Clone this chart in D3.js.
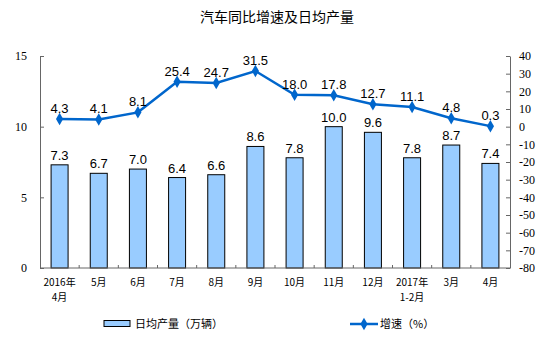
<!DOCTYPE html>
<html>
<head>
<meta charset="utf-8">
<script src="https://cdn.jsdelivr.net/npm/d3@7/dist/d3.min.js"></script>
<style>
  body { margin: 0; background: #fff; }
  svg { display: block; }
</style>
</head>
<body>
<svg id="chart" width="554" height="345"></svg>
<script>
// Monthly categories (second line of label after "\n")
const categories = ["2016年\n4月", "5月", "6月", "7月", "8月", "9月", "10月", "11月", "12月", "2017年\n1-2月", "3月", "4月"];
// Daily average output (10k vehicles)
const dailyOutput = [7.3, 6.7, 7.0, 6.4, 6.6, 8.6, 7.8, 10.0, 9.6, 7.8, 8.7, 7.4];
// Year-on-year growth (%)
const growth = [4.3, 4.1, 8.1, 25.4, 24.7, 31.5, 18.0, 17.8, 12.7, 11.1, 4.8, 0.3];
// Axis ticks
const leftTicks = [0, 5, 10, 15];
const rightTicks = [40, 30, 20, 10, 0, -10, -20, -30, -40, -50, -60, -70, -80];

const svg = d3.select("#chart");
const plot = { left: 40, right: 510, top: 56, bottom: 268 };

const x = d3.scaleBand().domain(categories).range([plot.left, plot.right]).padding(0);
const yL = d3.scaleLinear().domain([0, 15]).range([plot.bottom, plot.top]);
const yR = d3.scaleLinear().domain([-80, 40]).range([plot.bottom, plot.top]);

const barColor = "#99CCFF";
const lineColor = "#0066CC";
const axisColor = "#666";
const serif = "'Liberation Serif', 'Times New Roman', serif";
const sans = "'Liberation Sans', Arial, sans-serif";
const cjk = "'Noto Sans CJK SC', sans-serif";

// Title
svg.append("text")
  .attr("x", 277).attr("y", 22)
  .attr("text-anchor", "middle")
  .attr("font-family", cjk)
  .attr("font-size", 14)
  .attr("fill", "#000")
  .text("汽车同比增速及日均产量");

// Bars
const barW = 17;
svg.append("g").selectAll("rect")
  .data(dailyOutput)
  .join("rect")
  .attr("x", (d, i) => x(categories[i]) + x.bandwidth() / 2 - barW / 2)
  .attr("y", d => yL(d))
  .attr("width", barW)
  .attr("height", d => yL(0) - yL(d))
  .attr("fill", barColor)
  .attr("stroke", "#000")
  .attr("stroke-width", 1);

// Bar value labels
svg.append("g").selectAll("text")
  .data(dailyOutput)
  .join("text")
  .attr("x", (d, i) => x(categories[i]) + x.bandwidth() / 2)
  .attr("y", d => yL(d) - 5)
  .attr("text-anchor", "middle")
  .attr("font-family", sans)
  .attr("font-size", 13)
  .attr("fill", "#000")
  .text(d => d.toFixed(1));

// Plain hyphen for negative tick labels
const plainFmt = d => String(d);

// Left axis
const leftAxis = d3.axisLeft(yL).tickValues(leftTicks).tickFormat(plainFmt)
  .tickSizeInner(-4).tickSizeOuter(0).tickPadding(13);
const gL = svg.append("g").attr("transform", `translate(${plot.left},0)`).call(leftAxis);
gL.select(".domain").attr("stroke", axisColor);
gL.selectAll(".tick line").attr("stroke", axisColor);
gL.selectAll(".tick text").attr("font-family", serif).attr("font-size", 12).attr("fill", "#000");

// Right axis
const rightAxis = d3.axisRight(yR).tickValues(rightTicks).tickFormat(plainFmt)
  .tickSizeInner(-4).tickSizeOuter(0).tickPadding(9);
const gR = svg.append("g").attr("transform", `translate(${plot.right},0)`).call(rightAxis);
gR.select(".domain").attr("stroke", axisColor);
gR.selectAll(".tick line").attr("stroke", axisColor);
gR.selectAll(".tick text").attr("font-family", serif).attr("font-size", 12).attr("fill", "#000");

// Bottom axis line and inward ticks at band boundaries
svg.append("line")
  .attr("x1", plot.left).attr("x2", plot.right)
  .attr("y1", plot.bottom).attr("y2", plot.bottom)
  .attr("stroke", axisColor);
svg.append("g").selectAll("line")
  .data(categories.slice(1))
  .join("line")
  .attr("x1", d => x(d)).attr("x2", d => x(d))
  .attr("y1", plot.bottom).attr("y2", plot.bottom - 3)
  .attr("stroke", axisColor);

// Category labels
const xl = svg.append("g").selectAll("text")
  .data(categories)
  .join("text")
  .attr("x", d => x(d) + x.bandwidth() / 2)
  .attr("y", 286)
  .attr("text-anchor", "middle")
  .attr("font-family", cjk)
  .attr("font-size", 10)
  .attr("fill", "#000");
xl.each(function(d) {
  const parts = d.split("\n");
  const t = d3.select(this);
  parts.forEach((p, k) => {
    t.append("tspan")
      .attr("x", x(d) + x.bandwidth() / 2)
      .attr("dy", k === 0 ? 0 : 15)
      .text(p);
  });
});

// Growth line
const cx = (d, i) => x(categories[i]) + x.bandwidth() / 2;
const line = d3.line().x(cx).y(d => yR(d));
svg.append("path")
  .datum(growth)
  .attr("d", line)
  .attr("fill", "none")
  .attr("stroke", lineColor)
  .attr("stroke-width", 2.5);

const diamond = d3.symbol().type(d3.symbolDiamond).size(45);
svg.append("g").selectAll("path")
  .data(growth)
  .join("path")
  .attr("transform", (d, i) => `translate(${cx(d, i)},${yR(d)})`)
  .attr("d", diamond)
  .attr("fill", lineColor);

// Growth value labels
svg.append("g").selectAll("text")
  .data(growth)
  .join("text")
  .attr("x", cx)
  .attr("y", d => yR(d) - 6)
  .attr("text-anchor", "middle")
  .attr("font-family", sans)
  .attr("font-size", 13)
  .attr("fill", "#000")
  .text(d => d.toFixed(1));

// Legend
const lg = svg.append("g");
lg.append("rect")
  .attr("x", 104).attr("y", 320.5).attr("width", 26).attr("height", 6)
  .attr("fill", barColor).attr("stroke", "#000");
lg.append("text")
  .attr("x", 135).attr("y", 328)
  .attr("font-family", cjk).attr("font-size", 11).attr("fill", "#000")
  .text("日均产量（万辆）");
lg.append("line")
  .attr("x1", 350).attr("x2", 378).attr("y1", 324).attr("y2", 324)
  .attr("stroke", lineColor).attr("stroke-width", 2.5);
lg.append("path")
  .attr("transform", "translate(364,324)")
  .attr("d", diamond)
  .attr("fill", lineColor);
lg.append("text")
  .attr("x", 380).attr("y", 328)
  .attr("font-family", cjk).attr("font-size", 11).attr("fill", "#000")
  .text("增速（%）");
</script>
</body>
</html>
